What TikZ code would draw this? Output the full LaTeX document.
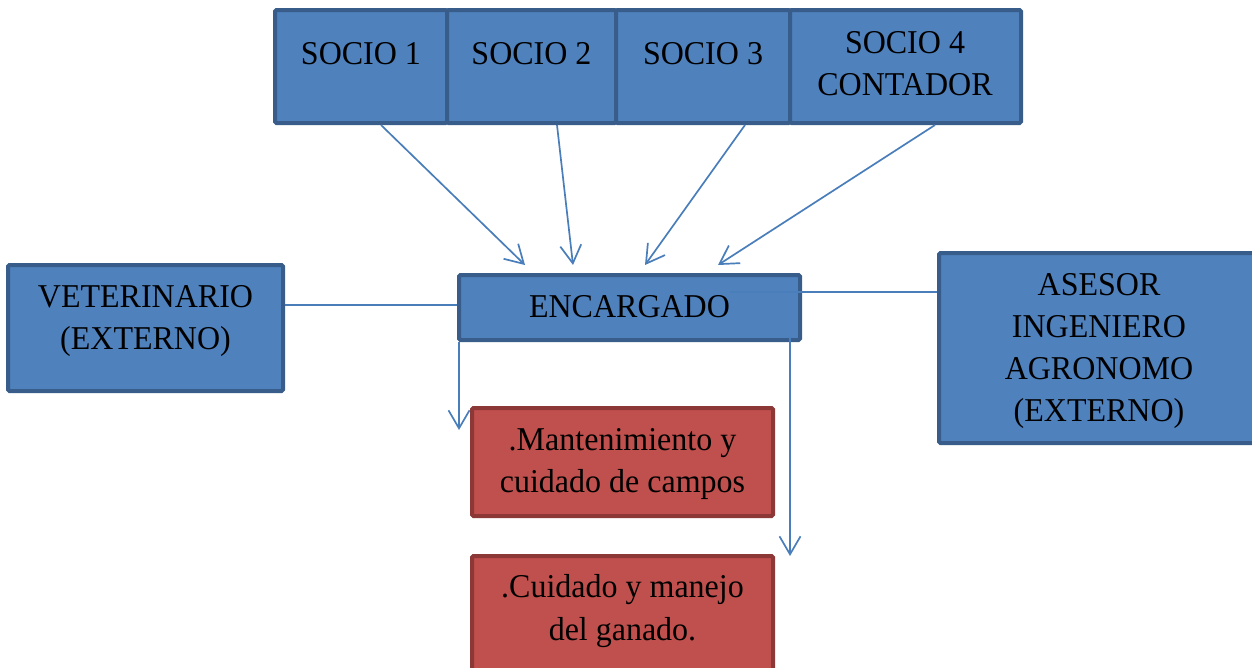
\documentclass[tikz,border=0pt]{standalone}
\usepackage{fontspec}
\setmainfont{Liberation Serif}
\usetikzlibrary{arrows.meta}
\definecolor{bfill}{HTML}{4F81BD}
\definecolor{bdraw}{HTML}{385D8A}
\definecolor{rfill}{HTML}{C0504D}
\definecolor{rdraw}{HTML}{8C3836}
\definecolor{lcol}{HTML}{4A7EBB}
\tikzset{
  box/.style={rectangle, line width=4pt, inner sep=0pt, rounded corners=1.5pt},
  bluebox/.style={box, fill=bfill, draw=bdraw},
  redbox/.style={box, fill=rfill, draw=rdraw},
  txt/.style={inner sep=0pt, align=center, font=\fontsize{32}{40.6}\selectfont, text=black, yscale=1.04},
  conn/.style={draw=lcol, line width=1.7pt},
  arr/.style={conn, -{Straight Barb[length=18pt,width=21pt,line width=1.7pt]}}
}
\begin{document}
\begin{tikzpicture}[x=1pt,y=-1pt]
\clip (0,0) rectangle (1252,667);
\useasboundingbox (0,0) rectangle (1252,667);
% top row
\node[bluebox, minimum width=172pt, minimum height=113pt] (s1) at (361,66.5) {};
\node[bluebox, minimum width=169pt, minimum height=113pt] (s2) at (531.5,66.5) {};
\node[bluebox, minimum width=174pt, minimum height=113pt] (s3) at (703,66.5) {};
\node[bluebox, minimum width=231pt, minimum height=113pt] (s4) at (905.5,66.5) {};
\node[txt] (t1) at (361,54) {SOCIO 1};
\node[txt] (t2) at (531.5,54) {SOCIO 2};
\node[txt] (t3) at (703,54) {SOCIO 3};
\node[txt] (t4) at (905,64) {SOCIO 4\\CONTADOR};
% middle
\node[bluebox, minimum width=341pt, minimum height=65pt] (enc) at (629.5,307.5) {};
\node[txt] (tenc) at (629.5,307) {ENCARGADO};
\node[bluebox, minimum width=275pt, minimum height=126pt] (vet) at (145.5,328) {};
\node[txt] (tvet) at (145.5,321) {VETERINARIO\\(EXTERNO)};
\node[bluebox, minimum width=321pt, minimum height=190pt] (ase) at (1099.5,348) {};
\node[txt] (tase) at (1099,351) {ASESOR\\INGENIERO\\AGRONOMO\\(EXTERNO)};
% red boxes
\node[redbox, minimum width=301pt, minimum height=108pt] (m1) at (622.5,462) {};
\node[txt] (tm1) at (622.5,464) {.Mantenimiento y\\cuidado de campos};
\node[redbox, minimum width=301pt, minimum height=144pt] (m2) at (622.5,628) {};
\node[txt] (tm2) at (622.5,611) {.Cuidado y manejo\\del ganado.};
% free ends
\coordinate (d1) at (459,430);
\coordinate (d2) at (790,556);
% connectors
\draw[arr] ([xshift=20pt]s1.south) -- ([xshift=-104.5pt,yshift=8pt]enc.north);
\draw[arr] ([xshift=25.5pt]s2.south) -- ([xshift=-56.5pt,yshift=8pt]enc.north);
\draw[arr] ([xshift=42pt]s3.south) -- ([xshift=15.5pt,yshift=8pt]enc.north);
\draw[arr] ([xshift=29.5pt]s4.south) -- ([xshift=88.5pt,yshift=8pt]enc.north);
\draw[conn] ([yshift=2.5pt]enc.west) coordinate (vl) -- (vl -| vet.east);
\draw[conn] ([xshift=100.5pt,yshift=15.5pt]enc.center) coordinate (al) -- (al -| ase.west);
\draw[arr] ([xshift=2pt]enc.south west) -- (d1);
\draw[arr] ([xshift=160.5pt,yshift=-29.5pt]enc.center) -- (d2);
\end{tikzpicture}
\end{document}
